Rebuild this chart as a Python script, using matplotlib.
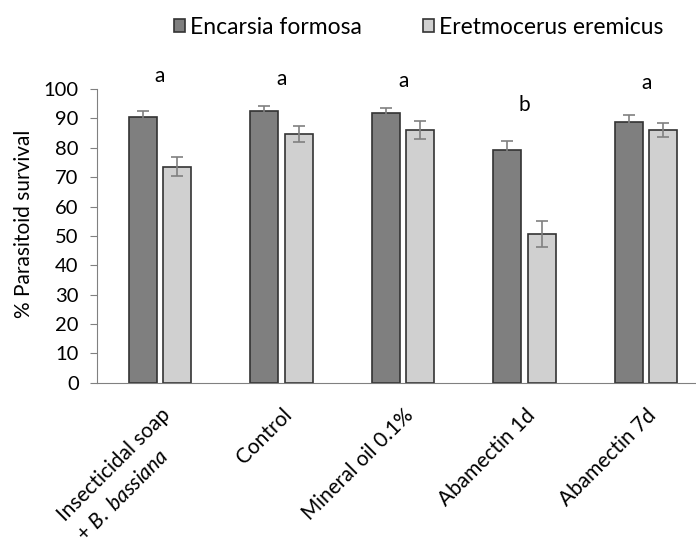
import matplotlib
matplotlib.use("Agg")
import matplotlib.pyplot as plt
import numpy as np

plt.rcParams['font.family'] = ['Lato', 'DejaVu Sans']
plt.rcParams['mathtext.fontset'] = 'custom'
plt.rcParams['mathtext.rm'] = 'Lato'
plt.rcParams['mathtext.it'] = 'Lato:italic'

treatments = ["Insecticidal soap\n+ $\\it{B.\\ bassiana}$", "Control", "Mineral oil 0.1%",
              "Abamectin 1d", "Abamectin 7d"]
encarsia = [90.6, 92.6, 91.9, 79.3, 88.8]
encarsia_se = [1.8, 1.7, 1.6, 2.9, 2.3]
eretmocerus = [73.6, 84.6, 86.1, 50.8, 86.1]
eretmocerus_se = [3.2, 2.7, 3.2, 4.4, 2.4]
letters = ["a", "a", "a", "b", "a"]
letter_y = [104.4, 103.4, 102.7, 94.6, 102.0]

fig = plt.figure(figsize=(6.96, 5.40), dpi=100)
ax = fig.add_axes([0.139, 0.291, 0.877, 0.544])

x = np.arange(len(treatments))
w = 0.23
err_kw = dict(ecolor='#808080', capsize=4, elinewidth=1.2, capthick=1.2)
ax.bar(x - 0.143, encarsia, w, yerr=encarsia_se, color='#7f7f7f', edgecolor='#333333',
       linewidth=1.2, error_kw=err_kw, label='Encarsia formosa')
ax.bar(x + 0.14, eretmocerus, w, yerr=eretmocerus_se, color='#d0d0d0', edgecolor='#333333',
       linewidth=1.2, error_kw=err_kw, label='Eretmocerus eremicus')

for i, (t, ly) in enumerate(zip(letters, letter_y)):
    ax.text(x[i], ly, t, ha='center', va='center', fontsize=15, clip_on=False)

ax.set_xlim(-0.52, 4.5)
ax.set_ylim(0, 100)
ax.set_yticks(range(0, 101, 10))
ax.tick_params(axis='y', labelsize=14.5, length=5, color='#808080', direction='out', pad=8)
ax.tick_params(axis='x', length=0, labelsize=15, pad=16)
ax.set_xticks(x)
ax.set_xticklabels(treatments, rotation=45, ha='right', rotation_mode='anchor',
                   multialignment='left', linespacing=1.5)
ax.set_ylabel('% Parasitoid survival', fontsize=15)
ax.yaxis.set_label_coords(-0.103, 0.54)
for s in ['top', 'right']:
    ax.spines[s].set_visible(False)
for s in ['left', 'bottom']:
    ax.spines[s].set_color('#808080')

ax.legend(loc='center', bbox_to_anchor=(0.527, 1.211), ncol=2, frameon=False,
          fontsize=16.5, handlelength=0.48, handleheight=0.48, columnspacing=2.66,
          handletextpad=0.22)

fig.savefig('out.png', dpi=100)
